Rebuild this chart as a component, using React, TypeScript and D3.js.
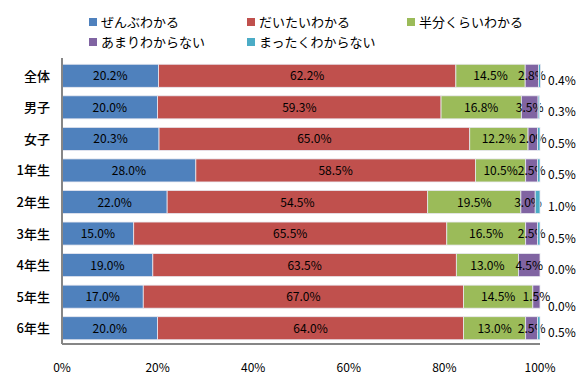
import * as d3 from "d3";
import { useEffect, useRef } from "react";

const categories = ["全体", "男子", "女子", "1年生", "2年生", "3年生", "4年生", "5年生", "6年生"];
const seriesNames = ["ぜんぶわかる", "だいたいわかる", "半分くらいわかる", "あまりわからない", "まったくわからない"];
const seriesColors = ["#4F81BD", "#C0504D", "#9BBB59", "#8064A2", "#4BACC6"];
const zenbu = [20.2, 20.0, 20.3, 28.0, 22.0, 15.0, 19.0, 17.0, 20.0];
const daitai = [62.2, 59.3, 65.0, 58.5, 54.5, 65.5, 63.5, 67.0, 64.0];
const hanbun = [14.5, 16.8, 12.2, 10.5, 19.5, 16.5, 13.0, 14.5, 13.0];
const amari = [2.8, 3.5, 2.0, 2.5, 3.0, 2.5, 4.5, 1.5, 2.5];
const mattaku = [0.4, 0.3, 0.5, 0.5, 1.0, 0.5, 0.0, 0.0, 0.5];
const xTicks = [0, 20, 40, 60, 80, 100];

const W = 580;
const H = 390;
const FONT = "'Noto Sans CJK JP', 'Noto Sans', sans-serif";

const App = () => {
    const svgRef = useRef<SVGSVGElement>(null);

    useEffect(() => {
        const svg = d3.select(svgRef.current).html("");
        const margin = { left: 62, right: 40, top: 60, bottom: 46 };

        const x = d3.scaleLinear().domain([0, 100]).range([margin.left, W - margin.right]);
        const y = d3.scaleBand<string>()
            .domain(categories)
            .range([margin.top, H - margin.bottom])
            .paddingInner(0.27)
            .paddingOuter(0.135);

        const rows = categories.map((c, i) => ({
            cat: c,
            v: [zenbu[i], daitai[i], hanbun[i], amari[i], mattaku[i]],
        }));
        const stack = d3.stack<any>()
            .keys([0, 1, 2, 3, 4] as any)
            .value((d: any, k: any) => d.v[k]);
        const layers = stack(rows);

        const purpleEnds: number[] = [];

        layers.forEach((layer, si) => {
            const g = svg.append("g");
            g.selectAll("rect")
                .data(layer)
                .enter()
                .append("rect")
                .attr("x", d => x(d[0]))
                .attr("y", (d: any) => y(d.data.cat)!)
                .attr("width", d => Math.max(0, x(d[1]) - x(d[0])))
                .attr("height", y.bandwidth())
                .attr("fill", seriesColors[si])
                .attr("stroke", "#e8e8f0")
                .attr("stroke-width", 0.8);

            const labels = g.selectAll("text")
                .data(layer)
                .enter()
                .append("text")
                .attr("font-family", FONT)
                .attr("font-size", 12)
                .attr("fill", "#000")
                .text((d: any) => d.data.v[si].toFixed(1) + "%");

            if (si < 4) {
                labels
                    .attr("x", d => x((d[0] + d[1]) / 2))
                    .attr("y", (d: any) => y(d.data.cat)! + y.bandwidth() / 2 + 4.5)
                    .attr("text-anchor", "middle");
                if (si === 3) {
                    labels.each(function (_d, i) {
                        const b = (this as SVGTextElement).getBBox();
                        purpleEnds[i] = b.x + b.width;
                    });
                }
            } else {
                // last series sits outside the bar end, nudged down if it would hit the purple label
                labels
                    .attr("x", x(100) + 8)
                    .attr("y", (d: any, i) =>
                        y(d.data.cat)! + y.bandwidth() / 2 + 9 + (purpleEnds[i] > x(100) + 7 ? 5 : 0))
                    .attr("text-anchor", "start");
            }
        });

        // axes
        svg.append("line")
            .attr("x1", margin.left).attr("x2", margin.left)
            .attr("y1", margin.top - 2).attr("y2", H - margin.bottom)
            .attr("stroke", "#868686").attr("stroke-width", 2);
        svg.append("line")
            .attr("x1", margin.left).attr("x2", x(100))
            .attr("y1", H - margin.bottom).attr("y2", H - margin.bottom)
            .attr("stroke", "#868686").attr("stroke-width", 2);

        svg.append("g")
            .selectAll("text")
            .data(xTicks)
            .enter()
            .append("text")
            .attr("x", d => x(d))
            .attr("y", 372)
            .attr("text-anchor", "middle")
            .attr("font-family", FONT)
            .attr("font-size", 12)
            .text(d => d + "%");

        svg.append("g")
            .selectAll("text")
            .data(categories)
            .enter()
            .append("text")
            .attr("x", 50)
            .attr("y", d => y(d)! + y.bandwidth() / 2 + 5)
            .attr("text-anchor", "end")
            .attr("font-family", FONT)
            .attr("font-size", 13)
            .attr("font-weight", 500)
            .text(d => d);

        // legend
        const legendX = [93, 251, 411];
        const legend = svg.append("g");
        seriesNames.forEach((name, i) => {
            const lx = legendX[i % 3];
            const ly = i < 3 ? 22 : 42;
            legend.append("rect")
                .attr("x", lx - 4).attr("y", ly - 4)
                .attr("width", 8).attr("height", 8)
                .attr("fill", seriesColors[i]);
            legend.append("text")
                .attr("x", lx + 8).attr("y", ly + 5)
                .attr("font-family", FONT)
                .attr("font-size", 13)
                .text(name);
        });
    }, []);

    return (
        <div style={{ position: "absolute", left: 0, top: 0 }}>
            <svg ref={svgRef} width={W} height={H} style={{ display: "block", background: "#fff" }}></svg>
        </div>
    );
};

export default App;
